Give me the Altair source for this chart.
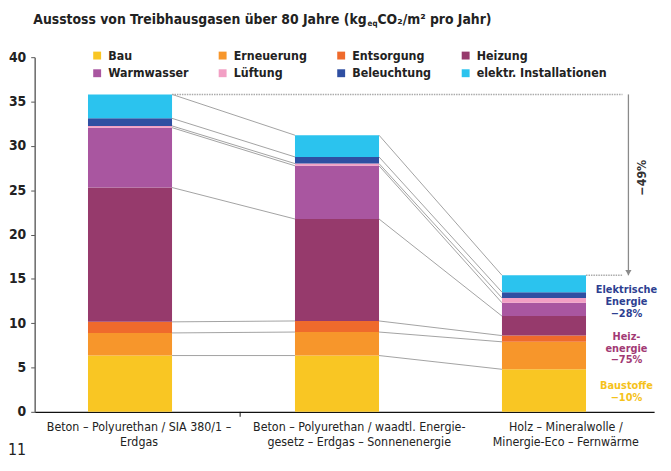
import json
import altair as alt
import pandas as pd

# ---------------- data ----------------
cat_lines = [
    ["Beton – Polyurethan / SIA 380/1 –", "Erdgas"],
    ["Beton – Polyurethan / waadtl. Energie-", "gesetz – Erdgas – Sonnenenergie"],
    ["Holz – Mineralwolle /", "Minergie-Eco – Fernwärme"],
]
components = ["Bau", "Erneuerung", "Entsorgung", "Heizung", "Warmwasser",
              "Lüftung", "Beleuchtung", "elektr. Installationen"]
colors = ["#f9c623", "#f7962b", "#ef6a2c", "#963a6c", "#a956a0",
          "#f29fc4", "#2f4fa2", "#2bc3ee"]
values_1 = [6.35, 2.55, 1.25, 15.15, 6.75, 0.2, 0.85, 2.7]
values_2 = [6.35, 2.65, 1.25, 11.5, 6.0, 0.25, 0.75, 2.45]
values_3 = [4.8, 3.1, 0.7, 2.2, 1.5, 0.55, 0.65, 1.9]
series = [values_1, values_2, values_3]

title_parts = ["Ausstoss von Treibhausgasen über 80 Jahre (kg", "eq", " CO₂/m² pro Jahr)"]
reduction_label = "−49%"
ann_elektro = ["Elektrische", "Energie", "−28%"]
ann_heiz = ["Heiz-", "energie", "−75%"]
ann_bau = ["Baustoffe", "−10%"]
page_number = "11"
y_ticks = [0, 5, 10, 15, 20, 25, 30, 35, 40]

# ---------------- styling ----------------
FONT = "DejaVu Sans Condensed, Liberation Sans Narrow, sans-serif"
HALF = 0.203  # half bar width in x units
LABEL_SHIFT = [0.041, 0.105, 0.103]  # category labels sit right of bar centres
W, H = 627, 359

# ---------------- tables ----------------
bar_rows, cum = [], []
for i, vals in enumerate(series):
    c, tops = 0.0, []
    for j, v in enumerate(vals):
        bar_rows.append({"xl": i - HALF, "xr": i + HALF, "y0": c, "y1": c + v,
                         "component": components[j], "order": j})
        c += v
        tops.append(c)
    cum.append(tops)
bars_df = pd.DataFrame(bar_rows)

conn_rows = []
for k in range(len(series) - 1):
    for j in range(len(components)):
        conn_rows.append({"xa": k + HALF, "xb": k + 1 - HALF,
                          "ya": cum[k][j], "yb": cum[k + 1][j]})
conn_df = pd.DataFrame(conn_rows)

totals = [c[-1] for c in cum]
dot_df = pd.DataFrame([{"xa": 0 + HALF, "y": totals[0]},
                       {"xa": 2 + HALF, "y": totals[2]}])
arrow_df = pd.DataFrame([{"ya": totals[0], "yb": totals[2]}])

xs = alt.Scale(domain=[-0.4606, 2.532], nice=False, zero=False)
ys = alt.Scale(domain=[0, 40], nice=False)

label_vals = [i + s for i, s in enumerate(LABEL_SHIFT)]
label_expr = ("datum.value < 0.5 ? " + json.dumps(cat_lines[0], ensure_ascii=False) +
              " : datum.value < 1.5 ? " + json.dumps(cat_lines[1], ensure_ascii=False) +
              " : " + json.dumps(cat_lines[2], ensure_ascii=False))

x_axis = alt.Axis(values=label_vals, labelExpr=label_expr, ticks=False, grid=False,
                  domainColor="#111", domainWidth=1.2, title=None, labelFont=FONT,
                  labelFontSize=12.5, labelColor="#222", labelPadding=9,
                  labelLineHeight=15, labelFlush=False, labelOverlap=False,
                  labelLimit=400)
y_axis = alt.Axis(values=y_ticks, grid=False, title=None, labelFont=FONT,
                  labelFontSize=14, labelFontWeight="bold", labelColor="#222",
                  tickSize=4, tickColor="#555", domainColor="#666", domainWidth=1.5,
                  labelPadding=5)

bars = alt.Chart(bars_df).mark_bar(strokeWidth=0).encode(
    x=alt.X("xl:Q", scale=xs, axis=x_axis),
    x2="xr:Q",
    y=alt.Y("y0:Q", scale=ys, axis=y_axis),
    y2="y1:Q",
    color=alt.Color("component:N",
                    scale=alt.Scale(domain=components, range=colors),
                    legend=alt.Legend(orient="none", legendX=57, legendY=-8,
                                      direction="horizontal",
                                      columns=4, title=None, symbolType="square",
                                      symbolSize=64, symbolStrokeWidth=0,
                                      labelFont=FONT, labelFontSize=12.5,
                                      labelFontWeight="bold", labelColor="#222",
                                      columnPadding=28, rowPadding=5,
                                      labelOffset=5, gridAlign="each",
                                      labelLimit=300)),
    order="order:Q",
)

connectors = alt.Chart(conn_df).mark_rule(color="#8a8a8a", strokeWidth=0.8).encode(
    x=alt.X("xa:Q", scale=xs), x2="xb:Q",
    y=alt.Y("ya:Q", scale=ys), y2="yb:Q")

dotted = alt.Chart(dot_df).mark_rule(color="#aaaaaa", strokeWidth=1.6,
                                     strokeDash=[1.5, 1]).encode(
    x=alt.X("xa:Q", scale=xs), x2=alt.value(595),
    y=alt.Y("y:Q", scale=ys))

arrow = alt.Chart(arrow_df).mark_rule(color="#8a8a8a", strokeWidth=1.3).encode(
    x=alt.value(601), y=alt.Y("ya:Q", scale=ys), y2="yb:Q")

arrow_head = alt.Chart(arrow_df).mark_point(
    shape="M-0.6,-1L0.6,-1L0,0Z", filled=True, color="#8a8a8a", size=110, opacity=1
).encode(x=alt.value(601), y=alt.Y("yb:Q", scale=ys))

red_text = alt.Chart(arrow_df).mark_text(
    text=reduction_label, angle=270, font=FONT, fontSize=12.5, color="#333",
    fontWeight="bold").encode(x=alt.value(615), y=alt.value(122))

odd_tick = alt.Chart(pd.DataFrame([{"t": 0.532}])).mark_rule(color="#111").encode(
    x=alt.X("t:Q", scale=xs), y=alt.value(H), y2=alt.value(H + 5))

def ann(lines, color, ytop):
    return alt.Chart(arrow_df).mark_text(
        text=lines, font=FONT, fontSize=11, fontWeight="bold", color=color,
        align="center", baseline="top", lineHeight=12
    ).encode(x=alt.value(599), y=alt.value(ytop))

ann1 = ann(ann_elektro, "#2e3f91", 230)
ann2 = ann(ann_heiz, "#a23a74", 277)
ann3 = ann(ann_bau, "#f5c21b", 327)

t1 = alt.Chart(arrow_df).mark_text(text=title_parts[0], font=FONT, fontSize=14,
                                   fontWeight="bold", color="#222", align="right",
                                   baseline="middle").encode(x=alt.value(336), y=alt.value(-38))
t2 = alt.Chart(arrow_df).mark_text(text=title_parts[1], font=FONT, fontSize=8,
                                   fontWeight="bold", color="#222", align="left",
                                   baseline="middle").encode(x=alt.value(337), y=alt.value(-34))
t3 = alt.Chart(arrow_df).mark_text(text=title_parts[2], font=FONT, fontSize=14,
                                   fontWeight="bold", color="#222", align="left",
                                   baseline="middle").encode(x=alt.value(347), y=alt.value(-38))

page = alt.Chart(arrow_df).mark_text(text=page_number, font=FONT, fontSize=16,
                                     color="#222", align="left",
                                     baseline="middle").encode(x=alt.value(-27), y=alt.value(398))

chart = alt.layer(bars, connectors, dotted, arrow, arrow_head, red_text, odd_tick,
                  ann1, ann2, ann3, t1, t2, t3, page).properties(
    width=W, height=H,
    padding={"left": 27, "top": 47, "right": 9, "bottom": 49},
    autosize=alt.AutoSizeParams(type="none"),
    background="white",
).configure_view(stroke=None)

chart.save("out.html", embed_options={"renderer": "svg", "actions": False})
